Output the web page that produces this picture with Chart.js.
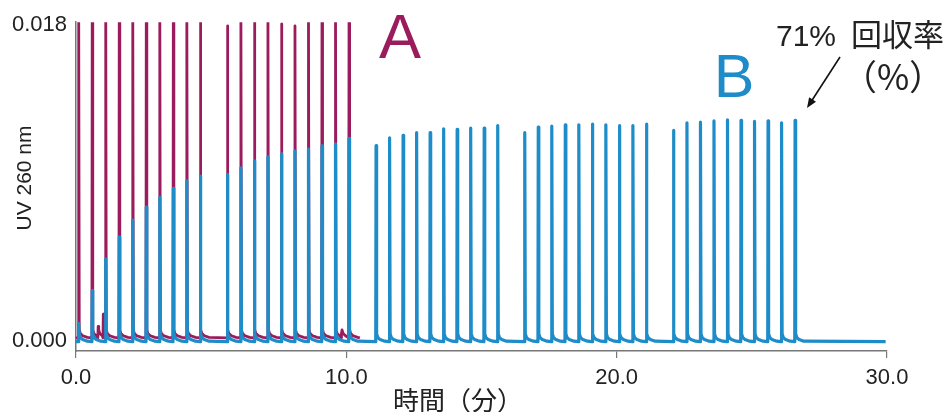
<!DOCTYPE html>
<html>
<head>
<meta charset="utf-8">
<script src="https://cdn.jsdelivr.net/npm/chart.js@4.4.1/dist/chart.umd.min.js"></script>
<style>
  html, body { margin: 0; padding: 0; background: #ffffff; }
  #wrap { width: 951px; height: 412px; position: relative; }
</style>
</head>
<body>
<div id="wrap"><canvas id="chart" width="951" height="412"></canvas></div>
<script>
// Run A: injection times (min) and apex absorbance (AU); off-scale apexes are clipped at the top
const peakTimesA = [0.10, 0.60, 0.82, 1.01, 1.10, 1.60, 2.10, 2.60, 3.10, 3.60, 4.10, 4.60,
                    5.60, 6.10, 6.60, 7.10, 7.60, 8.10, 8.60, 9.10, 9.60, 9.82, 10.10];
const peakHeightsA = [0.0190, 0.0190, 0.0008, 0.0015, 0.0190, 0.0190, 0.0190, 0.0190, 0.0190, 0.0190, 0.0190, 0.0190,
                      0.01794, 0.0190, 0.0190, 0.0190, 0.01805, 0.01794, 0.0190, 0.0190, 0.0190, 0.0004, 0.0190];

// Run B: injection times (min) and apex absorbance (AU)
const peakTimesB = [0.10, 0.60, 1.10, 1.60, 2.10, 2.60, 3.10, 3.60, 4.10, 4.60,
                    5.60, 6.10, 6.60, 7.10, 7.60, 8.10, 8.60, 9.10, 9.60, 10.10,
                    11.10, 11.60, 12.10, 12.60, 13.10, 13.60, 14.10, 14.60, 15.10, 15.60,
                    16.60, 17.10, 17.60, 18.10, 18.60, 19.10, 19.60, 20.10, 20.60, 21.10,
                    22.10, 22.60, 23.10, 23.60, 24.10, 24.60, 25.10, 25.60, 26.10, 26.60];
const peakHeightsB = [0.00097, 0.00285, 0.00464, 0.00590, 0.00686, 0.00761, 0.00816, 0.00868, 0.00910, 0.00938,
                      0.00946, 0.00985, 0.01025, 0.01047, 0.01064, 0.01081, 0.01093, 0.01110, 0.01121, 0.01152,
                      0.01111, 0.01156, 0.01170, 0.01185, 0.01185, 0.01207, 0.01204, 0.01211, 0.01211, 0.01226,
                      0.01185, 0.01217, 0.01222, 0.01230, 0.01230, 0.01234, 0.01230, 0.01226, 0.01226, 0.01234,
                      0.01198, 0.01241, 0.01245, 0.01252, 0.01258, 0.01255, 0.01249, 0.01252, 0.01241, 0.01256];

// Baseline level and run span (min) of each trace
const baselineA = 0.00015;
const baselineB = -0.00007;
const runSpanA = [0.0, 10.5];
const runSpanB = [0.0, 29.95];

// Peak profile: fast rise, then a short tailing decay back to baseline
const riseLead = 0.012;
const tailOffsets = [0.02, 0.06, 0.15, 0.32];
const tailLevels = [0.00045, 0.00025, 0.00012, 0.00003];

// Axis ticks and labels
const xTickValues = [0, 10, 20, 30];
const yTickValues = [0.000, 0.018];
const xAxisTitle = '時間（分）';
const yAxisTitle = 'UV 260 nm';
const labelA = 'A';
const labelB = 'B';
const recoveryValue = '71%';
const recoveryWord = '回収率';
const recoveryUnit = '（%）';

const colorA = '#9b1c5d';
const colorB = '#1d8cc8';

function buildTrace(times, heights, base, span) {
  const pts = [{ x: span[0], y: base }];
  times.forEach((t, i) => {
    const next = i < times.length - 1 ? times[i + 1] - riseLead : span[1];
    pts.push({ x: t - riseLead, y: base });
    pts.push({ x: t, y: heights[i] });
    tailOffsets.forEach((o, k) => {
      if (t + o < next - 0.005) pts.push({ x: t + o, y: base + tailLevels[k] });
    });
  });
  pts.push({ x: span[1], y: base });
  return pts;
}

const dataA = buildTrace(peakTimesA, peakHeightsA, baselineA, runSpanA);
const dataB = buildTrace(peakTimesB, peakHeightsB, baselineB, runSpanB);

const FONT = '"Liberation Sans", Arial, "Noto Sans CJK JP", sans-serif';
const CJK = '"Noto Sans CJK JP", sans-serif';

// Annotation layer: axis titles, run labels, recovery note with arrow
const annotations = {
  id: 'annotations',
  afterDraw(chart) {
    const { ctx } = chart;
    ctx.save();
    ctx.textBaseline = 'middle';
    ctx.textAlign = 'center';

    // y-axis title
    ctx.save();
    ctx.translate(25, 178);
    ctx.rotate(-Math.PI / 2);
    ctx.fillStyle = '#222';
    ctx.font = '21px ' + FONT;
    ctx.fillText(yAxisTitle, 0, 0);
    ctx.restore();

    // x-axis title
    ctx.fillStyle = '#222';
    ctx.font = '26px ' + CJK;
    ctx.fillText(xAxisTitle, 458, 400);

    // run labels
    ctx.textBaseline = 'alphabetic';
    ctx.font = '63px ' + FONT;
    ctx.fillStyle = colorA;
    ctx.fillText(labelA, 400, 58);
    ctx.font = '61px ' + FONT;
    ctx.fillStyle = colorB;
    ctx.fillText(labelB, 734, 97);

    // recovery note
    ctx.fillStyle = '#222';
    ctx.textAlign = 'left';
    ctx.font = '30px ' + FONT;
    ctx.fillText(recoveryValue, 776, 46);
    ctx.font = '31px ' + CJK;
    ctx.fillText(recoveryWord, 851, 46);
    ctx.textAlign = 'center';
    ctx.font = '35px ' + CJK;
    ctx.fillText(recoveryUnit, 893, 90);

    // arrow towards the last B peak
    const x1 = 840, y1 = 57;
    const x2 = 807, y2 = 108;
    const ang = Math.atan2(y2 - y1, x2 - x1);
    ctx.strokeStyle = '#111';
    ctx.lineWidth = 1.6;
    ctx.beginPath();
    ctx.moveTo(x1, y1);
    ctx.lineTo(x2 - 6 * Math.cos(ang), y2 - 6 * Math.sin(ang));
    ctx.stroke();
    ctx.fillStyle = '#111';
    ctx.beginPath();
    ctx.moveTo(x2, y2);
    ctx.lineTo(x2 - 11 * Math.cos(ang - 0.38), y2 - 11 * Math.sin(ang - 0.38));
    ctx.lineTo(x2 - 11 * Math.cos(ang + 0.38), y2 - 11 * Math.sin(ang + 0.38));
    ctx.closePath();
    ctx.fill();
    ctx.restore();
  }
};

new Chart(document.getElementById('chart'), {
  type: 'line',
  data: {
    datasets: [
      {
        label: 'B',
        data: dataB,
        borderColor: colorB,
        borderWidth: 3.2,
        borderJoinStyle: 'round',
        pointRadius: 0,
        tension: 0,
        clip: 0
      },
      {
        label: 'A',
        data: dataA,
        borderColor: colorA,
        borderWidth: 2.8,
        borderJoinStyle: 'round',
        pointRadius: 0,
        tension: 0,
        clip: 0
      }
    ]
  },
  options: {
    responsive: false,
    animation: false,
    events: [],
    layout: { padding: { left: 0, top: 19, right: 64, bottom: 0 } },
    plugins: { legend: { display: false }, tooltip: { enabled: false }, title: { display: false } },
    scales: {
      x: {
        type: 'linear',
        min: 0,
        max: 30,
        afterBuildTicks: (axis) => { axis.ticks = xTickValues.map(v => ({ value: v })); },
        afterFit: (axis) => { axis.height = 61; },
        ticks: {
          callback: (v) => Number(v).toFixed(1),
          font: { family: FONT, size: 22 },
          color: '#222',
          padding: 7,
          maxRotation: 0
        },
        grid: { display: true, drawOnChartArea: false, drawTicks: true, tickLength: 7, color: '#777', lineWidth: 1.2 },
        border: { display: true, color: '#777', width: 1.5 }
      },
      y: {
        type: 'linear',
        min: -0.0006,
        max: 0.01815,
        afterBuildTicks: (axis) => { axis.ticks = yTickValues.map(v => ({ value: v })); },
        afterFit: (axis) => { axis.width = 76; },
        ticks: {
          callback: (v) => Number(v).toFixed(3),
          font: { family: FONT, size: 22 },
          color: '#222',
          padding: 9
        },
        grid: { display: false, drawTicks: false },
        border: { display: true, color: '#777', width: 1.5 }
      }
    }
  },
  plugins: [annotations]
});
</script>
</body>
</html>
